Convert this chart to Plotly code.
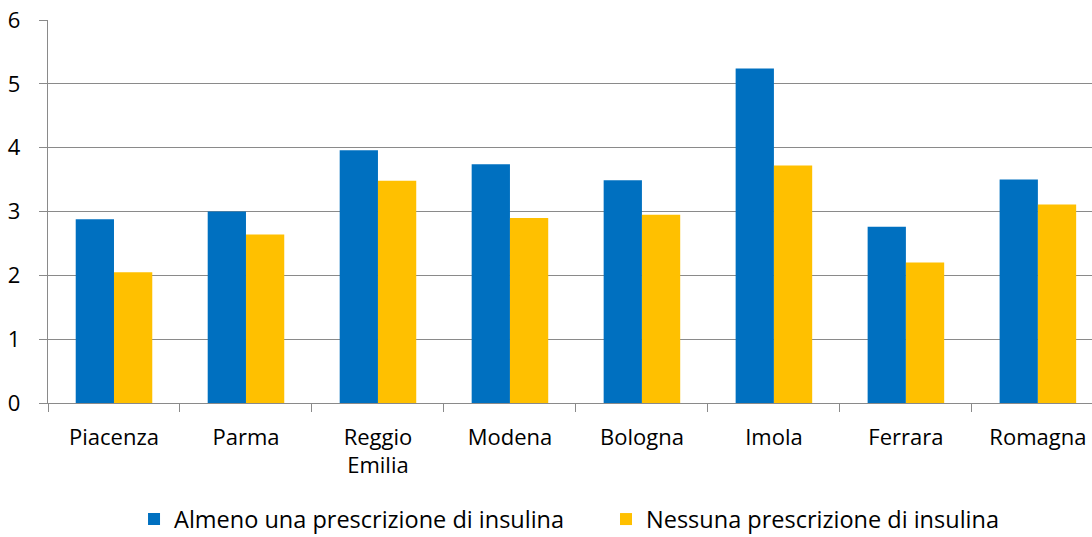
import plotly.graph_objects as go

categories = ["Piacenza", "Parma", "Reggio<br>Emilia", "Modena", "Bologna", "Imola", "Ferrara", "Romagna"]
almeno = [2.88, 3.00, 3.96, 3.74, 3.49, 5.24, 2.76, 3.50]
nessuna = [2.05, 2.64, 3.48, 2.90, 2.95, 3.72, 2.20, 3.11]
series_names = ["Almeno una prescrizione di insulina", "Nessuna prescrizione di insulina"]
y_ticks = [0, 1, 2, 3, 4, 5, 6]

FONT = "Open Sans"
GRID = "#8a8a8a"
fig = go.Figure()
fig.add_trace(go.Bar(x=categories, y=almeno, name=series_names[0], marker_color="#0070C0",
                     marker_line_width=0))
fig.add_trace(go.Bar(x=categories, y=nessuna, name=series_names[1], marker_color="#FFC000",
                     marker_line_width=0))

fig.update_layout(
    width=1092, height=537,
    margin=dict(l=48, r=0, t=20, b=134, autoexpand=False),
    paper_bgcolor="white", plot_bgcolor="white",
    barmode="group", bargap=0.42, bargroupgap=0,
    font=dict(family=FONT, size=22, color="#000000"),
    showlegend=True,
    legend=dict(orientation="h", x=0.0824, xanchor="left",
                yref="container", y=0.033, yanchor="middle",
                font=dict(family=FONT, size=23.5), entrywidth=427, traceorder="normal"),
)
fig.update_xaxes(
    range=[-0.5, 7.41],
    showgrid=False, automargin=False,
    showline=True, linecolor=GRID, linewidth=1.3,
    ticks="outside", tickson="boundaries", ticklen=8, tickcolor=GRID, tickwidth=1.3,
    tickfont=dict(family=FONT, size=22),
    ticklabelstandoff=14,
)
fig.update_yaxes(
    range=[0, 6], tickvals=y_ticks, automargin=False,
    showgrid=True, gridcolor=GRID, gridwidth=1.3,
    showline=True, linecolor=GRID, linewidth=1.3,
    ticks="outside", ticklen=8, tickcolor=GRID, tickwidth=1.3,
    tickfont=dict(family=FONT, size=22),
    ticklabelstandoff=14,
    zeroline=False,
)
fig.write_html("out.html", config={"displayModeBar": False},
               post_script="document.body.style.margin='0';")
